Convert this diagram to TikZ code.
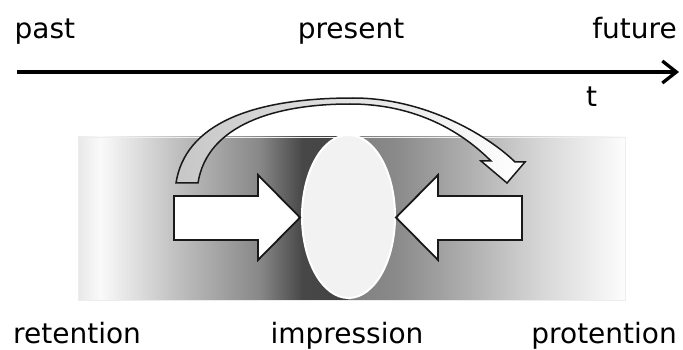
\documentclass[tikz,border=0pt]{standalone}
\usepackage{fontspec}
\setmainfont{DejaVu Sans}
\usetikzlibrary{arrows.meta,shapes.geometric}
\begin{document}
\begin{tikzpicture}[x=1pt,y=-1pt,
  lbl/.style={inner sep=0pt,font=\fontsize{28}{30}\selectfont},
  seg/.style={draw=none},
  impstyle/.style={ellipse,inner sep=0pt,minimum width=93pt,minimum height=163pt,fill=black!5,draw=white,line width=2pt},
  blockarrow/.style={fill=white,draw=black!90,line width=1.8pt,line join=miter},
  curvearrow/.style={left color=black!22,right color=white,draw=black!90,line width=1.5pt,line join=miter},
  timeline/.style={line width=3.3pt,-{Straight Barb[length=14pt,width=22pt]}}]
\useasboundingbox (0,0) rectangle (683,350);
\fill[white] (0,0) rectangle (683,350);
% gradient band
\foreach \xa/\xb/\ca/\cb in {78/100.5/9/2, 100/170.5/2/23, 170/260.5/23/47, 260/302.5/47/72, 302/348.5/72/74, 348/395.5/50/46, 395/470.5/46/31, 470/540.5/31/16, 540/625/16/1}{
  \path[seg,left color=black!\ca,right color=black!\cb] (\xa,137) rectangle (\xb,300);
}
\draw[black!7,line width=0.8pt] (78,137) rectangle (625,300);
% impression ellipse
\node[impstyle] (imp) at (348.5,216.5) {};
% block arrows
\path[blockarrow] (174,196) -- (258,196) -- (258,175) -- (300,217.5) -- (258,260) -- (258,240) -- (174,240) -- cycle;
\path[blockarrow] (522,196) -- (438,196) -- (438,175) -- (396,217.5) -- (438,260) -- (438,240) -- (522,240) -- cycle;
% curved arrow
\path[curvearrow] (176,183) .. controls (185,125) and (250,98) .. (353,98)
  .. controls (430,98) and (493,140) .. (515,162)
  -- (525,162) -- (507,183) -- (481,161) -- (491,161)
  .. controls (470,140) and (425,104) .. (350,104)
  .. controls (275,104) and (207,125) .. (198,183) -- cycle;
% timeline
\coordinate (tstart) at (17,72);
\coordinate (tend) at (679,72);
\draw[timeline] (tstart) -- (tend);
% labels
\node[lbl,anchor=base west] (past) at (14.5,39) {past};
\node[lbl,anchor=base] (present) at (351,39) {present};
\node[lbl,anchor=base east] (future) at (677,39) {future};
\node[lbl,anchor=base west] (t) at (586,107) {t};
\node[lbl,anchor=base west] (retention) at (13,343) {retention};
\node[lbl,anchor=base] (impression) at (347,343) {impression};
\node[lbl,anchor=base east] (protention) at (677,343) {protention};
\end{tikzpicture}
\end{document}
